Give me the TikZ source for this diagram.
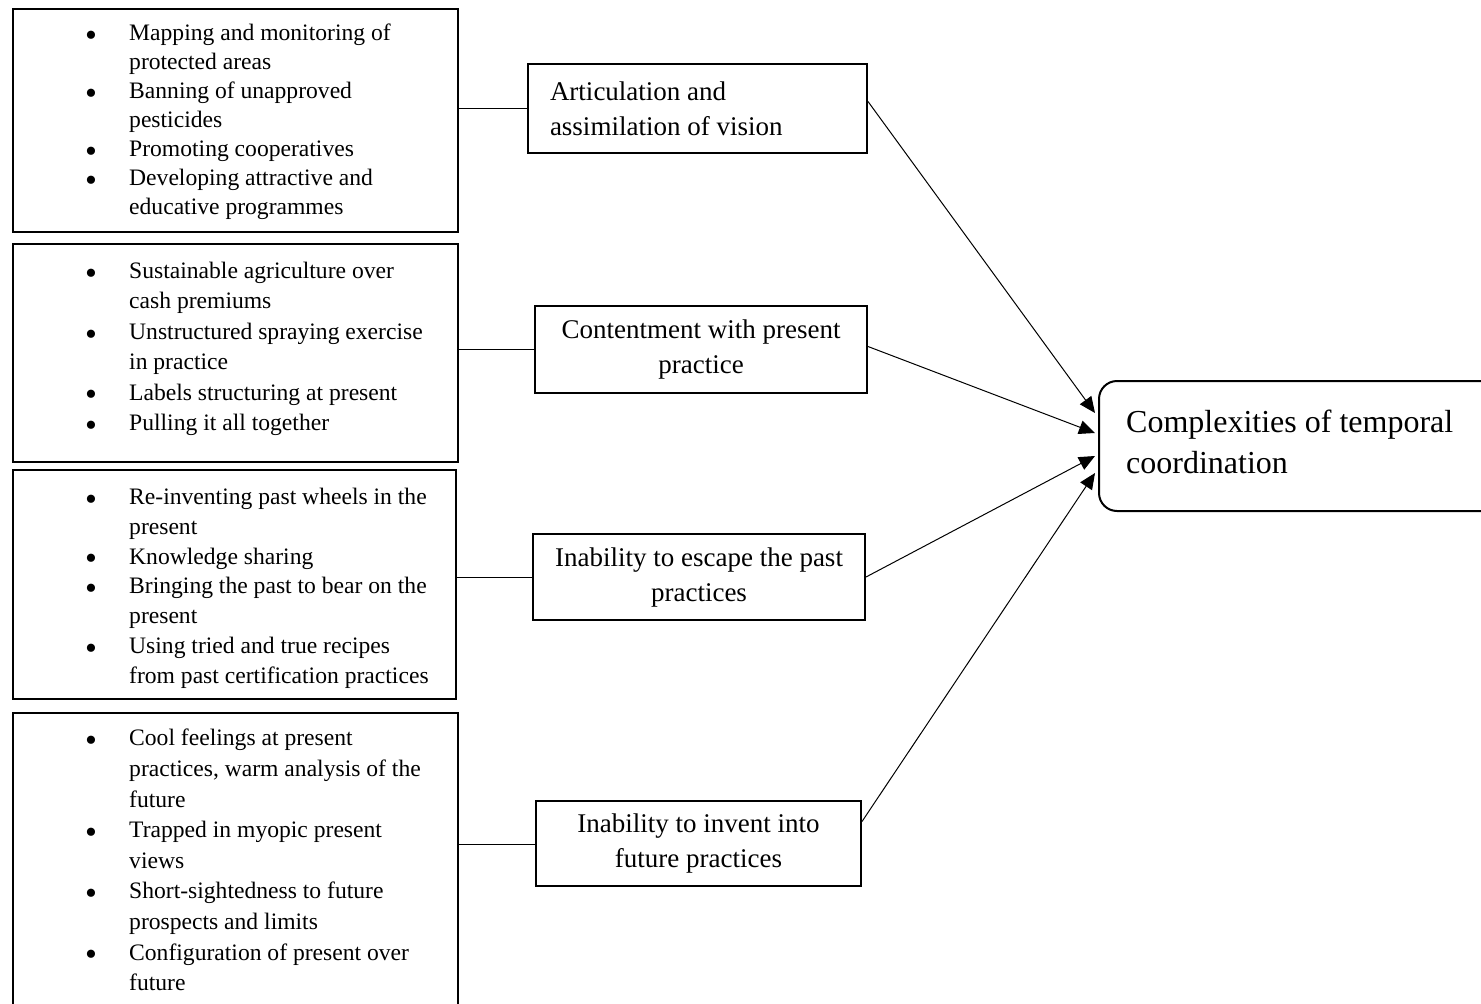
\documentclass[tikz,border=0pt]{standalone}
\usepackage{fontspec}
\setmainfont{Liberation Serif}
\usetikzlibrary{arrows.meta}

% bullet column and continuation indent for the item lists
\newcommand{\bl}{\makebox[44pt][l]{\raisebox{-5.8pt}[0pt][0pt]{\fontsize{34}{34}\selectfont\textbullet}}}
\newcommand{\ct}{\hspace*{44pt}}

\begin{document}
\begin{tikzpicture}[x=1pt,y=-1pt,
  listbox/.style={draw, line width=2pt, anchor=north west, inner sep=0pt},
  listtext/.style={anchor=north west, inner sep=0pt, align=left},
  midbox/.style={draw, line width=2pt, anchor=north west, inner sep=0pt,
                 font=\fontsize{27}{35}\selectfont},
  resultbox/.style={draw, line width=2pt, rounded corners=18pt, anchor=north west,
                    inner sep=0pt},
  resulttext/.style={anchor=west, inner sep=0pt, text width=360pt, align=flush left,
                     font=\fontsize{32}{41}\selectfont},
  link/.style={line width=1pt},
  feed/.style={line width=1pt, -{Triangle[length=16pt,width=14pt]}}
]
\useasboundingbox (0,0) rectangle (1481,1004);

% left column: lists of observations
\node[listbox, minimum width=445pt, minimum height=223pt] (L1) at (12,8) {};
\node[listtext, font=\fontsize{23.6}{29}\selectfont] (T1) at (85,24) {\bl Mapping and monitoring of\\
  \ct protected areas\\
  \bl Banning of unapproved\\
  \ct pesticides\\
  \bl Promoting cooperatives\\
  \bl Developing attractive and\\
  \ct educative programmes};

\node[listbox, minimum width=445pt, minimum height=218pt] (L2) at (12,243) {};
\node[listtext, font=\fontsize{23.6}{30.4}\selectfont] (T2) at (85,262) {\bl Sustainable agriculture over\\
  \ct cash premiums\\
  \bl Unstructured spraying exercise\\
  \ct in practice\\
  \bl Labels structuring at present\\
  \bl Pulling it all together};

\node[listbox, minimum width=443pt, minimum height=229pt] (L3) at (12,469) {};
\node[listtext, font=\fontsize{23.6}{29.8}\selectfont] (T3) at (85,488) {\bl Re-inventing past wheels in the\\
  \ct present\\
  \bl Knowledge sharing\\
  \bl Bringing the past to bear on the\\
  \ct present\\
  \bl Using tried and true recipes\\
  \ct from past certification practices};

\node[listbox, minimum width=445pt, minimum height=310pt] (L4) at (12,712) {};
\node[listtext, font=\fontsize{23.6}{30.6}\selectfont] (T4) at (85,729) {\bl Cool feelings at present\\
  \ct practices, warm analysis of the\\
  \ct future\\
  \bl Trapped in myopic present\\
  \ct views\\
  \bl Short-sightedness to future\\
  \ct prospects and limits\\
  \bl Configuration of present over\\
  \ct future};

% middle column: themes
\node[midbox, minimum width=339pt, minimum height=89pt, text width=295pt, align=flush left]
  (M1) at (527,63) {Articulation and\\assimilation of vision};
\node[midbox, minimum width=332pt, minimum height=87pt, text width=320pt, align=flush center]
  (M2) at (534,305) {Contentment with present\\practice};
\node[midbox, minimum width=332pt, minimum height=86pt, text width=320pt, align=flush center]
  (M3) at (532,533) {Inability to escape the past\\practices};
\node[midbox, minimum width=325pt, minimum height=85pt, text width=310pt, align=flush center]
  (M4) at (535,800) {Inability to invent into\\future practices};

% right: overall category
\node[resultbox, minimum width=400pt, minimum height=130pt] (R) at (1098,380) {};
\node[resulttext] (RT) at ([xshift=28pt,yshift=4pt]R.west) {Complexities of temporal\\coordination};

% lists to themes
\draw[link] (M1.west) -- (M1.west -| L1.east);
\draw[link] (M2.west) -- (M2.west -| L2.east);
\draw[link] (M3.west) -- (M3.west -| L3.east);
\draw[link] ([yshift=-1pt]M4.west) -- ([yshift=-1pt]M4.west -| L4.east);

% themes to category
\draw[feed] ([yshift=7pt]M1.east) -- ([xshift=-3pt,yshift=33pt]R.west);
\draw[feed] ([yshift=3pt]M2.east) -- ([xshift=-3pt,yshift=13pt]R.west);
\draw[feed] (M3.east) -- ([xshift=-3pt,yshift=-10pt]R.west);
\draw[feed] ([yshift=22pt]M4.east) -- ([xshift=-3pt,yshift=-27pt]R.west);
\end{tikzpicture}
\end{document}
